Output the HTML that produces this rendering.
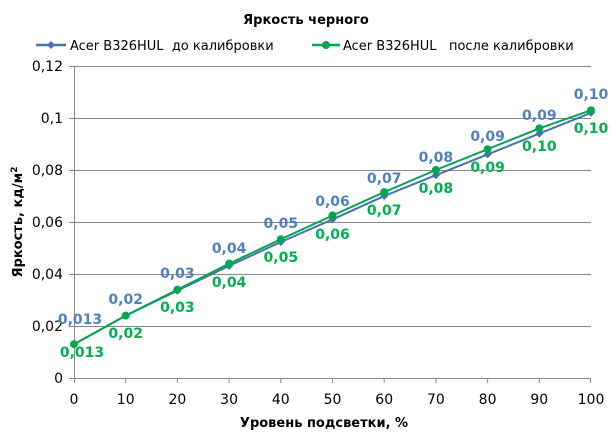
<!DOCTYPE html>
<html><head><meta charset="utf-8"><style>
html,body{margin:0;padding:0;background:#fff}
svg{display:block;font-family:"DejaVu Sans","Liberation Sans",sans-serif}
.t{font-size:14px;fill:#000}
.l{font-size:13px;fill:#000}
.b{font-size:14px;font-weight:bold;fill:#4f81bd}
.g{font-size:14px;font-weight:bold;fill:#00b050}
</style></head><body>
<svg width="613" height="437" viewBox="0 0 613 437">
<text x="306" y="24" text-anchor="middle" font-size="13" font-weight="bold">Яркость черного</text>
<line x1="36" y1="45" x2="66" y2="45" stroke="#4a6fb0" stroke-width="2.5"/>
<path d="M51 41 L55 45 L51 49 L47 45Z" fill="#4a6fb0"/>
<text x="70" y="50" class="l">Acer B326HUL&#160;&#160;до калибровки</text>
<line x1="312" y1="45" x2="340" y2="45" stroke="#00a650" stroke-width="2.5"/>
<circle cx="326" cy="45" r="4" fill="#00a650"/>
<text x="343" y="50" class="l">Acer B326HUL&#160;&#160;&#160;после калибровки</text>
<g stroke="#888" stroke-width="1">
<line x1="74" y1="66.5" x2="591" y2="66.5"/><line x1="74" y1="118.5" x2="591" y2="118.5"/>
<line x1="74" y1="170.5" x2="591" y2="170.5"/><line x1="74" y1="222.5" x2="591" y2="222.5"/>
<line x1="74" y1="274.5" x2="591" y2="274.5"/><line x1="74" y1="326.5" x2="591" y2="326.5"/>
<line x1="74" y1="378.5" x2="591" y2="378.5"/><line x1="74.5" y1="66" x2="74.5" y2="378"/>
<line x1="69" y1="66.5" x2="74" y2="66.5"/><line x1="69" y1="118.5" x2="74" y2="118.5"/><line x1="69" y1="170.5" x2="74" y2="170.5"/><line x1="69" y1="222.5" x2="74" y2="222.5"/><line x1="69" y1="274.5" x2="74" y2="274.5"/><line x1="69" y1="326.5" x2="74" y2="326.5"/><line x1="69" y1="378.5" x2="74" y2="378.5"/>
<line x1="74.5" y1="378" x2="74.5" y2="383"/><line x1="125.7" y1="378" x2="125.7" y2="383"/><line x1="177.4" y1="378" x2="177.4" y2="383"/><line x1="229.1" y1="378" x2="229.1" y2="383"/><line x1="280.8" y1="378" x2="280.8" y2="383"/><line x1="332.5" y1="378" x2="332.5" y2="383"/><line x1="384.2" y1="378" x2="384.2" y2="383"/><line x1="435.9" y1="378" x2="435.9" y2="383"/><line x1="487.6" y1="378" x2="487.6" y2="383"/><line x1="539.3" y1="378" x2="539.3" y2="383"/><line x1="590.5" y1="378" x2="590.5" y2="383"/>
</g>
<g class="t" text-anchor="end">
<text x="63" y="71">0,12</text><text x="63" y="123">0,1</text><text x="63" y="175">0,08</text><text x="63" y="227">0,06</text><text x="63" y="279">0,04</text><text x="63" y="331">0,02</text><text x="63" y="383">0</text>
</g>
<g class="t" text-anchor="middle">
<text x="74" y="404">0</text><text x="125.7" y="404">10</text><text x="177.4" y="404">20</text><text x="229.1" y="404">30</text><text x="280.8" y="404">40</text><text x="332.5" y="404">50</text><text x="384.2" y="404">60</text><text x="435.9" y="404">70</text><text x="487.6" y="404">80</text><text x="539.3" y="404">90</text><text x="591" y="404">100</text>
</g>
<text x="324" y="427" text-anchor="middle" font-size="13" font-weight="bold">Уровень подсветки, %</text>
<text transform="translate(22,222) rotate(-90)" text-anchor="middle" font-size="13" font-weight="bold">Яркость, кд/м<tspan font-size="9" dy="-5">2</tspan></text>
<polyline fill="none" stroke="#4a6fb0" stroke-width="2" points="74,344.2 125.7,315.6 177.4,290.6 229.1,265.9 280.8,242 332.5,219.4 384.2,196 435.9,175.2 487.6,154.4 539.3,133.6 591,112.8"/>
<g fill="#4a6fb0">
<path d="M74 340 l4 4 -4 4 -4 -4Z"/><path d="M125.7 311.6 l4 4 -4 4 -4 -4Z"/><path d="M177.4 286.6 l4 4 -4 4 -4 -4Z"/><path d="M229.1 261.9 l4 4 -4 4 -4 -4Z"/><path d="M280.8 238 l4 4 -4 4 -4 -4Z"/><path d="M332.5 215.4 l4 4 -4 4 -4 -4Z"/><path d="M384.2 192 l4 4 -4 4 -4 -4Z"/><path d="M435.9 171.2 l4 4 -4 4 -4 -4Z"/><path d="M487.6 150.4 l4 4 -4 4 -4 -4Z"/><path d="M539.3 129.6 l4 4 -4 4 -4 -4Z"/><path d="M591 108.8 l4 4 -4 4 -4 -4Z"/>
</g>
<polyline fill="none" stroke="#00a650" stroke-width="2" points="74,344.2 125.7,315.6 177.4,289.6 229.1,263.6 280.8,239.3 332.5,215.5 384.2,192.1 435.9,170 487.6,149.2 539.3,128.4 591,110.2"/>
<g fill="#00a650">
<circle cx="74" cy="344.2" r="4"/><circle cx="125.7" cy="315.6" r="4"/><circle cx="177.4" cy="289.6" r="4"/><circle cx="229.1" cy="263.6" r="4"/><circle cx="280.8" cy="239.3" r="4"/><circle cx="332.5" cy="215.5" r="4"/><circle cx="384.2" cy="192.1" r="4"/><circle cx="435.9" cy="170" r="4"/><circle cx="487.6" cy="149.2" r="4"/><circle cx="539.3" cy="128.4" r="4"/><circle cx="591" cy="110.2" r="4"/>
</g>
<g class="b" text-anchor="middle">
<text x="80" y="324">0,013</text><text x="125.7" y="304">0,02</text><text x="177.4" y="278">0,03</text><text x="229.1" y="253">0,04</text><text x="280.8" y="228">0,05</text><text x="332.5" y="206">0,06</text><text x="384.2" y="183">0,07</text><text x="435.9" y="162">0,08</text><text x="487.6" y="141">0,09</text><text x="539.3" y="120">0,09</text><text x="591" y="99">0,10</text>
</g>
<g class="g" text-anchor="middle">
<text x="82" y="357">0,013</text><text x="125.7" y="338">0,02</text><text x="177.4" y="312">0,03</text><text x="229.1" y="287">0,04</text><text x="280.8" y="262">0,05</text><text x="332.5" y="239">0,06</text><text x="384.2" y="215">0,07</text><text x="435.9" y="193">0,08</text><text x="487.6" y="172">0,09</text><text x="539.3" y="151">0,10</text><text x="591" y="133">0,10</text>
</g>
</svg>
</body></html>
